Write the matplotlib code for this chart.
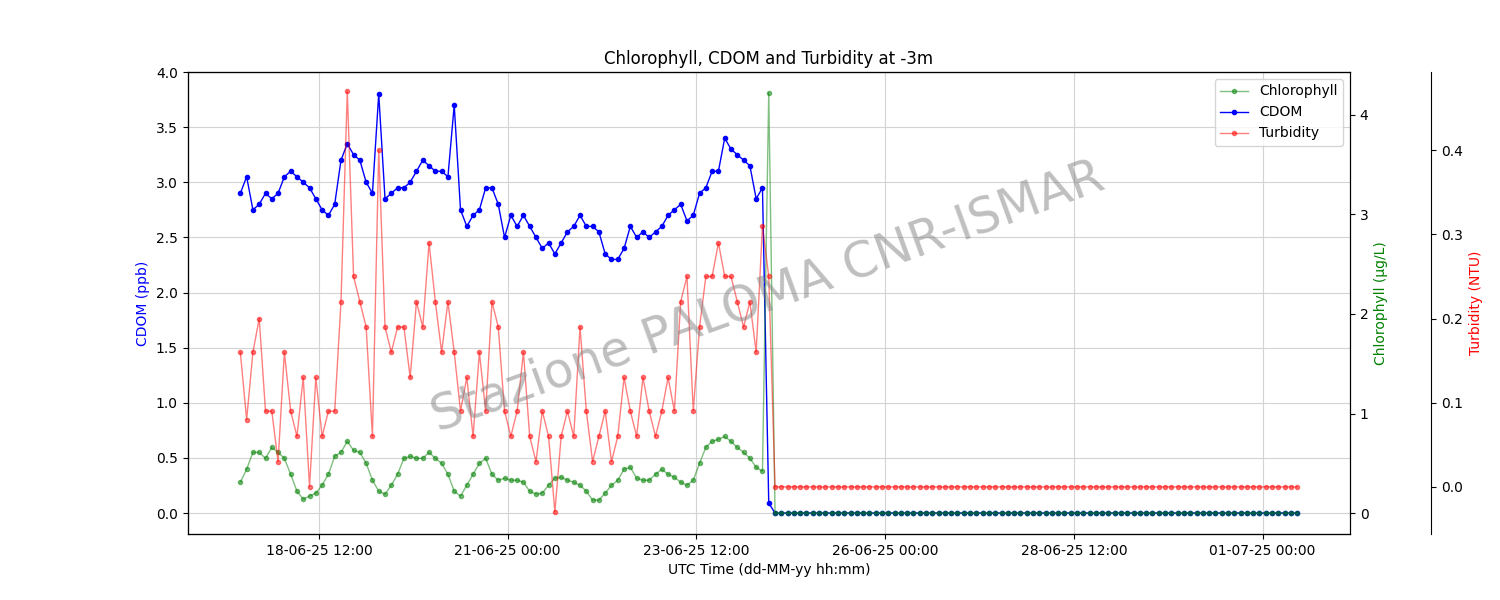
import matplotlib
matplotlib.use("Agg")
import matplotlib.pyplot as plt
import matplotlib.dates as mdates
import pandas as pd
import numpy as np

cdom_pre = [2.9,3.05,2.75,2.8,2.9,2.85,2.9,3.05,3.1,3.05,3.0,2.95,
            2.85,2.75,2.7,2.8,3.2,3.35,3.25,3.2,3.0,2.9,3.8,2.85,
            2.9,2.95,2.95,3.0,3.1,3.2,3.15,3.1,3.1,3.05,3.7,2.75,
            2.6,2.7,2.75,2.95,2.95,2.8,2.5,2.7,2.6,2.7,2.6,2.5,
            2.4,2.45,2.35,2.45,2.55,2.6,2.7,2.6,2.6,2.55,2.35,2.3,
            2.3,2.4,2.6,2.5,2.55,2.5,2.55,2.6,2.7,2.75,2.8,2.65,
            2.7,2.9,2.95,3.1,3.1,3.4,3.3,3.25,3.2,3.15,2.85,2.95,
            0.09]
chl_pre = [0.31,0.44,0.61,0.61,0.55,0.66,0.61,0.55,0.39,0.22,0.14,0.17,
           0.2,0.28,0.39,0.57,0.61,0.72,0.63,0.61,0.5,0.33,0.22,0.19,
           0.28,0.39,0.55,0.57,0.55,0.55,0.61,0.55,0.5,0.39,0.22,0.17,
           0.28,0.39,0.5,0.55,0.39,0.33,0.35,0.33,0.33,0.31,0.22,0.19,
           0.2,0.28,0.35,0.36,0.33,0.31,0.28,0.22,0.13,0.13,0.2,0.28,
           0.33,0.44,0.46,0.35,0.33,0.33,0.39,0.44,0.39,0.36,0.31,0.28,
           0.33,0.5,0.66,0.72,0.74,0.77,0.72,0.66,0.61,0.55,0.46,0.42,
           4.22]
turb_pre = [0.16,0.08,0.16,0.2,0.09,0.09,0.03,0.16,0.09,0.06,0.13,0.0,
            0.13,0.06,0.09,0.09,0.22,0.47,0.25,0.22,0.19,0.06,0.4,0.19,
            0.16,0.19,0.19,0.13,0.22,0.19,0.29,0.22,0.16,0.22,0.16,0.09,
            0.13,0.06,0.16,0.09,0.22,0.19,0.09,0.06,0.09,0.16,0.06,0.03,
            0.09,0.06,-0.03,0.06,0.09,0.06,0.19,0.09,0.03,0.06,0.09,0.03,
            0.06,0.13,0.09,0.06,0.13,0.09,0.06,0.09,0.13,0.09,0.22,0.25,
            0.09,0.19,0.25,0.25,0.29,0.25,0.25,0.22,0.19,0.22,0.16,0.31,
            0.25]
n_post = 84
cdom = cdom_pre + [0.0] * n_post
chl = chl_pre + [0.0] * n_post
turb = turb_pre + [0.0] * n_post
times = pd.date_range("2025-06-17 11:00", periods=len(cdom), freq="2h")
tick_times = pd.date_range("2025-06-18 12:00", periods=6, freq="60h")

fig, ax = plt.subplots(figsize=(15, 6), dpi=100)
fig.subplots_adjust(left=0.125, right=0.9, bottom=0.11, top=0.88)
ax2 = ax.twinx()
ax3 = ax.twinx()
ax3.spines["right"].set_position(("axes", 1.07))

l2, = ax2.plot(times, chl, "-o", color="green", alpha=0.5, lw=1, ms=3, label="Chlorophyll")
l1, = ax.plot(times, cdom, "-o", color="blue", lw=1, ms=3, label="CDOM")
l3, = ax3.plot(times, turb, "-o", color="red", alpha=0.5, lw=1, ms=3, label="Turbidity")

ax.set_ylim(-0.19, 4.0)
ax2.set_ylim(-0.21, 4.43)
ax3.set_ylim(-0.056, 0.493)
ax.set_ylabel("CDOM (ppb)", color="blue")
ax2.set_ylabel("Chlorophyll (µg/L)", color="green")
ax3.set_ylabel("Turbidity (NTU)", color="red")
ax.set_xlabel("UTC Time (dd-MM-yy hh:mm)")
ax.set_title("Chlorophyll, CDOM and Turbidity at -3m")
ax.set_xticks(tick_times)
ax.xaxis.set_major_formatter(mdates.DateFormatter("%d-%m-%y %H:%M"))
ax.grid(True, color="#d3d3d3")
ax3.legend([l2, l1, l3], ["Chlorophyll", "CDOM", "Turbidity"], loc="upper right")
fig.text(0.512, 0.505, "Stazione PALOMA CNR-ISMAR", fontsize=35, color="gray", alpha=0.5,
         rotation=20, ha="center", va="center")
fig.savefig("out.png")
